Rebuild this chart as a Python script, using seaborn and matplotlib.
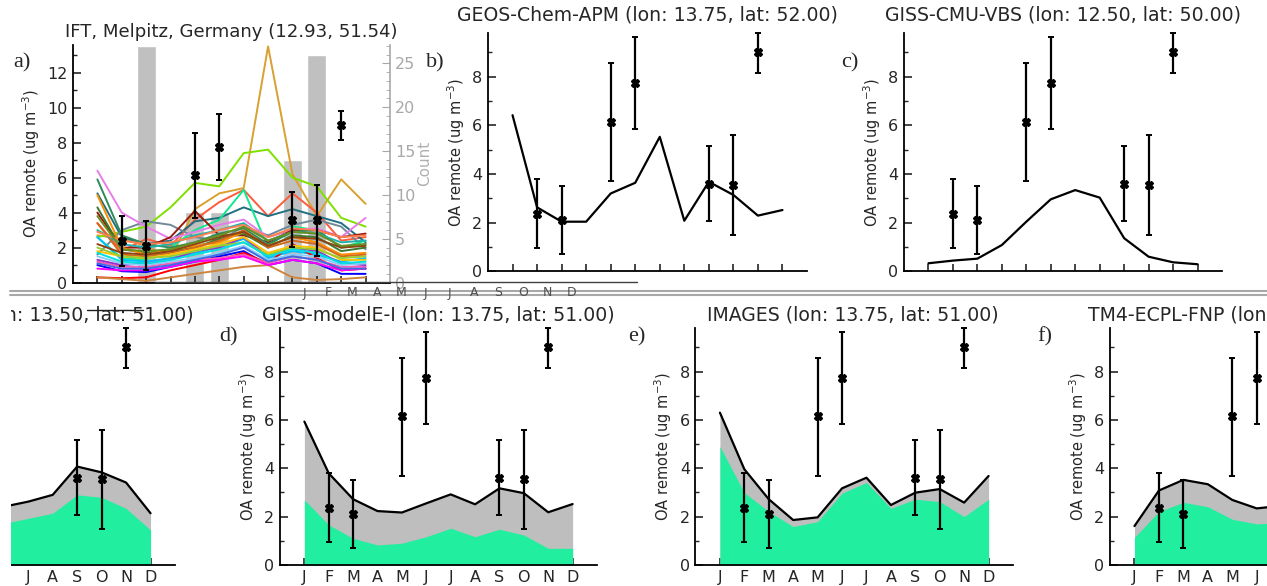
import numpy as np
import pandas as pd
import matplotlib
matplotlib.use("Agg")
import matplotlib.pyplot as plt
from matplotlib.lines import Line2D
from matplotlib.patches import Rectangle
from matplotlib.ticker import MultipleLocator
import seaborn as sns

# ---------------- data ----------------
month_num = list(range(1, 13))
month_labels = ["J", "F", "M", "A", "M", "J", "J", "A", "S", "O", "N", "D"]

obs_month = [2, 3, 5, 6, 9, 10, 11]
obs_val = [2.35, 2.10, 6.15, 7.75, 3.60, 3.55, 9.00]
obs_lo = [0.95, 0.70, 3.70, 5.85, 2.05, 1.50, 8.15]
obs_hi = [3.80, 3.50, 8.55, 9.65, 5.15, 5.60, 9.80]

count_month = [3, 5, 6, 9, 10]
count_val = [27, 8, 8, 14, 26]

model_lines_a = [
    [2.7, 2.5, 2.1, 1.4, 4.2, 5.1, 5.4, 13.5, 6.2, 3.8, 5.9, 4.5],
    [2.6, 2.9, 3.2, 4.3, 5.7, 5.5, 7.4, 7.6, 6.0, 5.5, 3.7, 3.2],
    [3.4, 1.8, 2.5, 2.1, 3.6, 4.6, 5.3, 3.8, 5.1, 4.0, 2.4, 2.6],
    [5.1, 2.6, 2.2, 2.4, 3.5, 3.7, 4.3, 3.8, 4.2, 3.8, 3.4, 2.3],
    [1.6, 3.0, 3.5, 3.3, 2.6, 2.4, 3.2, 2.7, 3.3, 3.6, 3.2, 1.9],
    [2.6, 1.4, 1.3, 2.0, 3.0, 3.6, 5.3, 2.0, 3.2, 3.0, 2.0, 2.4],
    [6.4, 4.0, 3.2, 2.5, 2.9, 3.3, 3.6, 2.6, 3.0, 3.1, 2.6, 3.7],
    [4.0, 2.0, 2.0, 2.6, 4.1, 2.7, 2.7, 2.3, 3.0, 3.0, 2.6, 2.8],
    [5.9, 2.7, 2.2, 2.0, 2.3, 2.8, 3.1, 2.2, 2.9, 3.0, 2.0, 2.2],
    [4.3, 1.9, 1.7, 1.8, 2.0, 2.5, 2.8, 2.0, 2.7, 2.6, 1.8, 2.0],
    [5.0, 2.0, 1.6, 1.9, 2.1, 2.3, 2.9, 2.1, 2.6, 2.3, 1.6, 1.7],
    [3.4, 1.6, 1.5, 1.7, 2.0, 2.4, 3.0, 2.0, 2.4, 2.2, 1.5, 1.6],
    [2.6, 1.3, 1.2, 1.4, 1.7, 2.0, 2.5, 1.4, 1.8, 1.6, 1.2, 1.4],
    [1.0, 0.65, 0.6, 0.9, 1.2, 1.5, 1.8, 1.0, 1.3, 1.1, 0.5, 0.5],
    [0.3, 0.25, 0.3, 0.7, 1.0, 1.3, 1.7, 1.1, 2.2, 1.4, 0.7, 0.8],
    [1.2, 0.9, 0.9, 1.1, 1.3, 1.4, 1.6, 1.1, 1.5, 1.3, 0.9, 0.9],
    [0.3, 0.2, 0.1, 0.3, 0.5, 0.7, 0.9, 1.0, 0.3, 0.15, 0.2, 0.3],
    [1.3, 1.0, 1.1, 1.3, 1.8, 2.0, 2.6, 1.5, 2.0, 1.8, 1.1, 1.0],
    [1.8, 1.5, 1.4, 1.6, 1.9, 2.2, 2.6, 1.7, 2.1, 2.0, 1.3, 1.3],
    [1.5, 1.1, 1.0, 1.2, 1.4, 1.7, 2.1, 1.3, 1.6, 1.5, 1.0, 1.1],
    [2.2, 1.7, 1.6, 1.8, 2.2, 2.6, 2.9, 2.1, 2.6, 2.5, 2.0, 2.1],
    [0.8, 0.7, 0.7, 0.9, 1.2, 1.3, 1.5, 1.0, 1.3, 1.1, 0.7, 0.8],
    [3.0, 2.2, 2.0, 2.2, 2.7, 3.0, 3.4, 2.4, 2.9, 2.8, 2.3, 2.4],
    [2.0, 1.5, 1.4, 1.5, 1.8, 2.1, 2.3, 1.6, 2.0, 1.9, 1.4, 1.5],
    [1.1, 0.8, 0.8, 1.0, 1.3, 1.6, 2.0, 1.2, 1.5, 1.3, 0.8, 0.8],
    [2.9, 2.4, 2.2, 2.3, 2.6, 3.0, 3.3, 2.6, 3.1, 3.0, 2.6, 2.7],
    [3.8, 1.9, 1.8, 1.9, 2.3, 2.7, 3.2, 2.4, 2.9, 2.8, 2.1, 2.2],
    [1.7, 1.2, 1.1, 1.3, 1.6, 1.9, 2.3, 1.5, 1.9, 1.7, 1.1, 1.2],
]
model_colors_a = [
    "#d9a030", "#7fe000", "#ff5a3c", "#1f7080", "#708898", "#10e890", "#e87ce8",
    "#9a1a10", "#2e8b57", "#3a7a30", "#ff8c00", "#d2691e", "#00bfff", "#0000ff",
    "#ff0000", "#ff5ab4", "#cd853f", "#9932cc", "#ffc400", "#87cefa", "#8b4513",
    "#ff00ff", "#20b2aa", "#9acd32", "#4169e1", "#ff7f50", "#6b8e23", "#00e0e0",
]

geos_apm = [6.42, 2.63, 2.04, 2.04, 3.20, 3.64, 5.53, 2.08, 3.68, 3.14, 2.29, 2.52]
giss_cmu = [0.33, 0.44, 0.52, 1.08, 2.04, 2.96, 3.34, 3.03, 1.36, 0.60, 0.37, 0.29]

cut_total = [3.0, 2.6, 2.4, 2.3, 2.3, 2.41, 2.62, 2.90, 4.07, 3.83, 3.41, 2.14]
cut_soa = [2.0, 1.7, 1.6, 1.6, 1.6, 1.72, 1.93, 2.14, 2.90, 2.80, 2.34, 1.45]
giss_e_total = [5.93, 3.79, 2.72, 2.23, 2.17, 2.55, 2.92, 2.51, 3.17, 2.97, 2.18, 2.52]
giss_e_soa = [2.69, 1.66, 1.10, 0.83, 0.90, 1.17, 1.52, 1.17, 1.48, 1.24, 0.69, 0.69]
images_total = [6.30, 3.96, 2.72, 1.86, 1.97, 3.17, 3.61, 2.48, 2.99, 3.14, 2.58, 3.68]
images_soa = [4.90, 2.99, 2.21, 1.59, 1.79, 2.97, 3.41, 2.34, 2.72, 2.62, 2.00, 2.72]
tm4_total = [1.61, 3.08, 3.52, 3.34, 2.69, 2.34, 2.45, 2.5, 2.8, 2.6, 2.2, 1.9]
tm4_soa = [1.14, 2.21, 2.59, 2.41, 1.89, 1.70, 1.75, 1.8, 2.0, 1.9, 1.5, 1.3]

# ---------------- figure ----------------
sns.set_style("white")
plt.rcParams["font.family"] = ["DejaVu Sans"]

W, H = 1267, 586
fig = plt.figure(figsize=(W / 100, H / 100), dpi=100)

GREEN = "#22ee9f"
GREY = "#bebebe"
TITLE_FS = 13.6


def px_axes(left, right, top, bottom):
    return fig.add_axes([left / W, 1 - bottom / H, (right - left) / W, (bottom - top) / H])


def style(ax, ymax, labels=True, major=2):
    ax.set_xlim(0, 13)
    ax.set_ylim(0, ymax)
    ax.set_facecolor("none")
    for s in ["top", "right"]:
        ax.spines[s].set_visible(False)
    for s in ["left", "bottom"]:
        ax.spines[s].set_linewidth(1.3)
        ax.spines[s].set_color("black")
    ax.yaxis.set_major_locator(MultipleLocator(major))
    ax.yaxis.set_minor_locator(MultipleLocator(1))
    ax.tick_params(axis="y", which="major", direction="in", length=6, width=1.2,
                   labelsize=11.5, pad=4, left=True)
    ax.tick_params(axis="y", which="minor", direction="in", length=3, width=1.0, left=True)
    ax.set_xticks(month_num)
    ax.tick_params(axis="x", direction="in", length=5, width=1.2, bottom=True)
    if labels:
        ax.set_xticklabels(month_labels, fontsize=11.5)
    else:
        ax.set_xticklabels([])
    ax.set_xlabel("")
    ax.set_ylabel("OA remote (ug m$^{-3}$)", fontsize=10.5, labelpad=4)


def obs(ax):
    v = np.array(obs_val)
    yerr = [v - np.array(obs_lo), np.array(obs_hi) - v]
    ax.errorbar(obs_month, obs_val, yerr=yerr, fmt="X", color="black", ms=6,
                elinewidth=1.6, capsize=2.5, capthick=1.4, zorder=6, clip_on=False)


def stacked(ax, total, soa):
    ax.fill_between(month_num, 0, total, color=GREY, lw=0, zorder=1)
    ax.fill_between(month_num, 0, soa, color=GREEN, lw=0, zorder=2)
    sns.lineplot(x=month_num, y=total, color="black", lw=1.6, ax=ax, zorder=3)


def title(text, xc, yc, fs=TITLE_FS):
    fig.text(xc / W, 1 - yc / H, text, ha="center", va="center", fontsize=fs)


def letter(text, x, y):
    fig.text(x / W, 1 - y / H, text, ha="center", va="center", fontsize=16,
             family=["Liberation Serif", "DejaVu Serif"])


# ---- panel a ----
axc = px_axes(73, 390, 45, 282.6)
axc.bar(count_month, count_val, width=0.78, color="#c0c0c0", zorder=1)
axc.set_xlim(0, 13)
axc.set_ylim(0, 27.1)
for s in ["top", "left", "bottom"]:
    axc.spines[s].set_visible(False)
axc.spines["right"].set_color("#a8a8a8")
axc.spines["right"].set_linewidth(1.2)
axc.yaxis.tick_right()
axc.yaxis.set_label_position("right")
axc.yaxis.set_major_locator(MultipleLocator(5))
axc.yaxis.set_minor_locator(MultipleLocator(1))
axc.tick_params(axis="y", which="major", direction="in", length=6, colors="#a8a8a8",
                labelcolor="#a8a8a8", labelsize=11.5, right=True)
axc.tick_params(axis="y", which="minor", direction="in", length=3, colors="#a8a8a8", right=True)
axc.set_xticks([])
axc.set_ylabel("Count", color="#b0b0b0", fontsize=11, labelpad=1)

ax_a = px_axes(73, 390, 45, 282.6)
rows = []
for i, vals in enumerate(model_lines_a):
    for m, v in zip(month_num, vals):
        rows.append({"month": m, "oa": v, "model": f"m{i:02d}"})
df_a = pd.DataFrame(rows)
pal = {f"m{i:02d}": c for i, c in enumerate(model_colors_a)}
sns.lineplot(data=df_a, x="month", y="oa", hue="model", palette=pal, lw=1.4,
             legend=False, ax=ax_a)
style(ax_a, 13.58, labels=False)
ax_a.set_ylim(0, 13.58)
obs(ax_a)
title("IFT, Melpitz, Germany (12.93, 51.54)", 231, 32, fs=13.1)
letter("a)", 22, 63)

# ---- panel b ----
ax_b = px_axes(488, 807, 33, 271.3)
sns.lineplot(x=month_num, y=geos_apm, color="black", lw=1.6, ax=ax_b)
style(ax_b, 9.8, labels=False)
obs(ax_b)
title("GEOS-Chem-APM (lon: 13.75, lat: 52.00)", 647, 15)
letter("b)", 435, 63)

# ---- panel c ----
ax_c = px_axes(904, 1222, 33, 271.3)
sns.lineplot(x=month_num, y=giss_cmu, color="black", lw=1.6, ax=ax_c)
style(ax_c, 9.8, labels=False)
obs(ax_c)
title("GISS-CMU-VBS (lon: 12.50, lat: 50.00)", 1063, 15)
letter("c)", 850, 63)

# ---- bottom row ----
ax_cut = px_axes(-143, 175, 328, 565)
stacked(ax_cut, cut_total, cut_soa)
style(ax_cut, 9.8)
obs(ax_cut)
fig.text(194 / W, 1 - 315 / H, "CAM5.3-MOSAIC (lon: 13.50, lat: 51.00)", ha="right",
         va="center", fontsize=TITLE_FS)

ax_d = px_axes(280, 597, 328, 565)
stacked(ax_d, giss_e_total, giss_e_soa)
style(ax_d, 9.8)
obs(ax_d)
title("GISS-modelE-I (lon: 13.75, lat: 51.00)", 438, 315)
letter("d)", 229, 337)

ax_e = px_axes(695.5, 1013, 328, 565)
stacked(ax_e, images_total, images_soa)
style(ax_e, 9.8)
obs(ax_e)
title("IMAGES (lon: 13.75, lat: 51.00)", 853, 315)
letter("e)", 637, 337)

ax_f = px_axes(1110, 1428, 328, 565)
stacked(ax_f, tm4_total, tm4_soa)
style(ax_f, 9.8)
obs(ax_f)
title("TM4-ECPL-FNP (lon: 13.75, lat: 51.00)", 1266, 315)
letter("f)", 1045, 337)

# the bottom-left panel is cropped at x = 11 px in the reference
fig.add_artist(Rectangle((0, 0), 11 / W, 1 - 300 / H, transform=fig.transFigure,
                         facecolor="white", edgecolor="none", zorder=20))

# ---- scan-artefact band between the rows ----
for i, lab in enumerate(month_labels):
    fig.text((304 + 24.3 * i) / W, 1 - 293 / H, lab, ha="center", va="center",
             fontsize=9, color="#505050")
fig.add_artist(Line2D([155 / W, 637 / W], [1 - 282 / H] * 2, color="#404040", lw=1.0))
fig.add_artist(Line2D([10 / W, 1.0], [1 - 290.5 / H] * 2, color="#a8a8a8", lw=1.5))
fig.add_artist(Line2D([10 / W, 1.0], [1 - 294.5 / H] * 2, color="#a8a8a8", lw=1.5))
fig.add_artist(Line2D([87 / W, 143 / W], [1 - 310 / H] * 2, color="#202020", lw=1.0))

fig.savefig("out.png", dpi=100)
